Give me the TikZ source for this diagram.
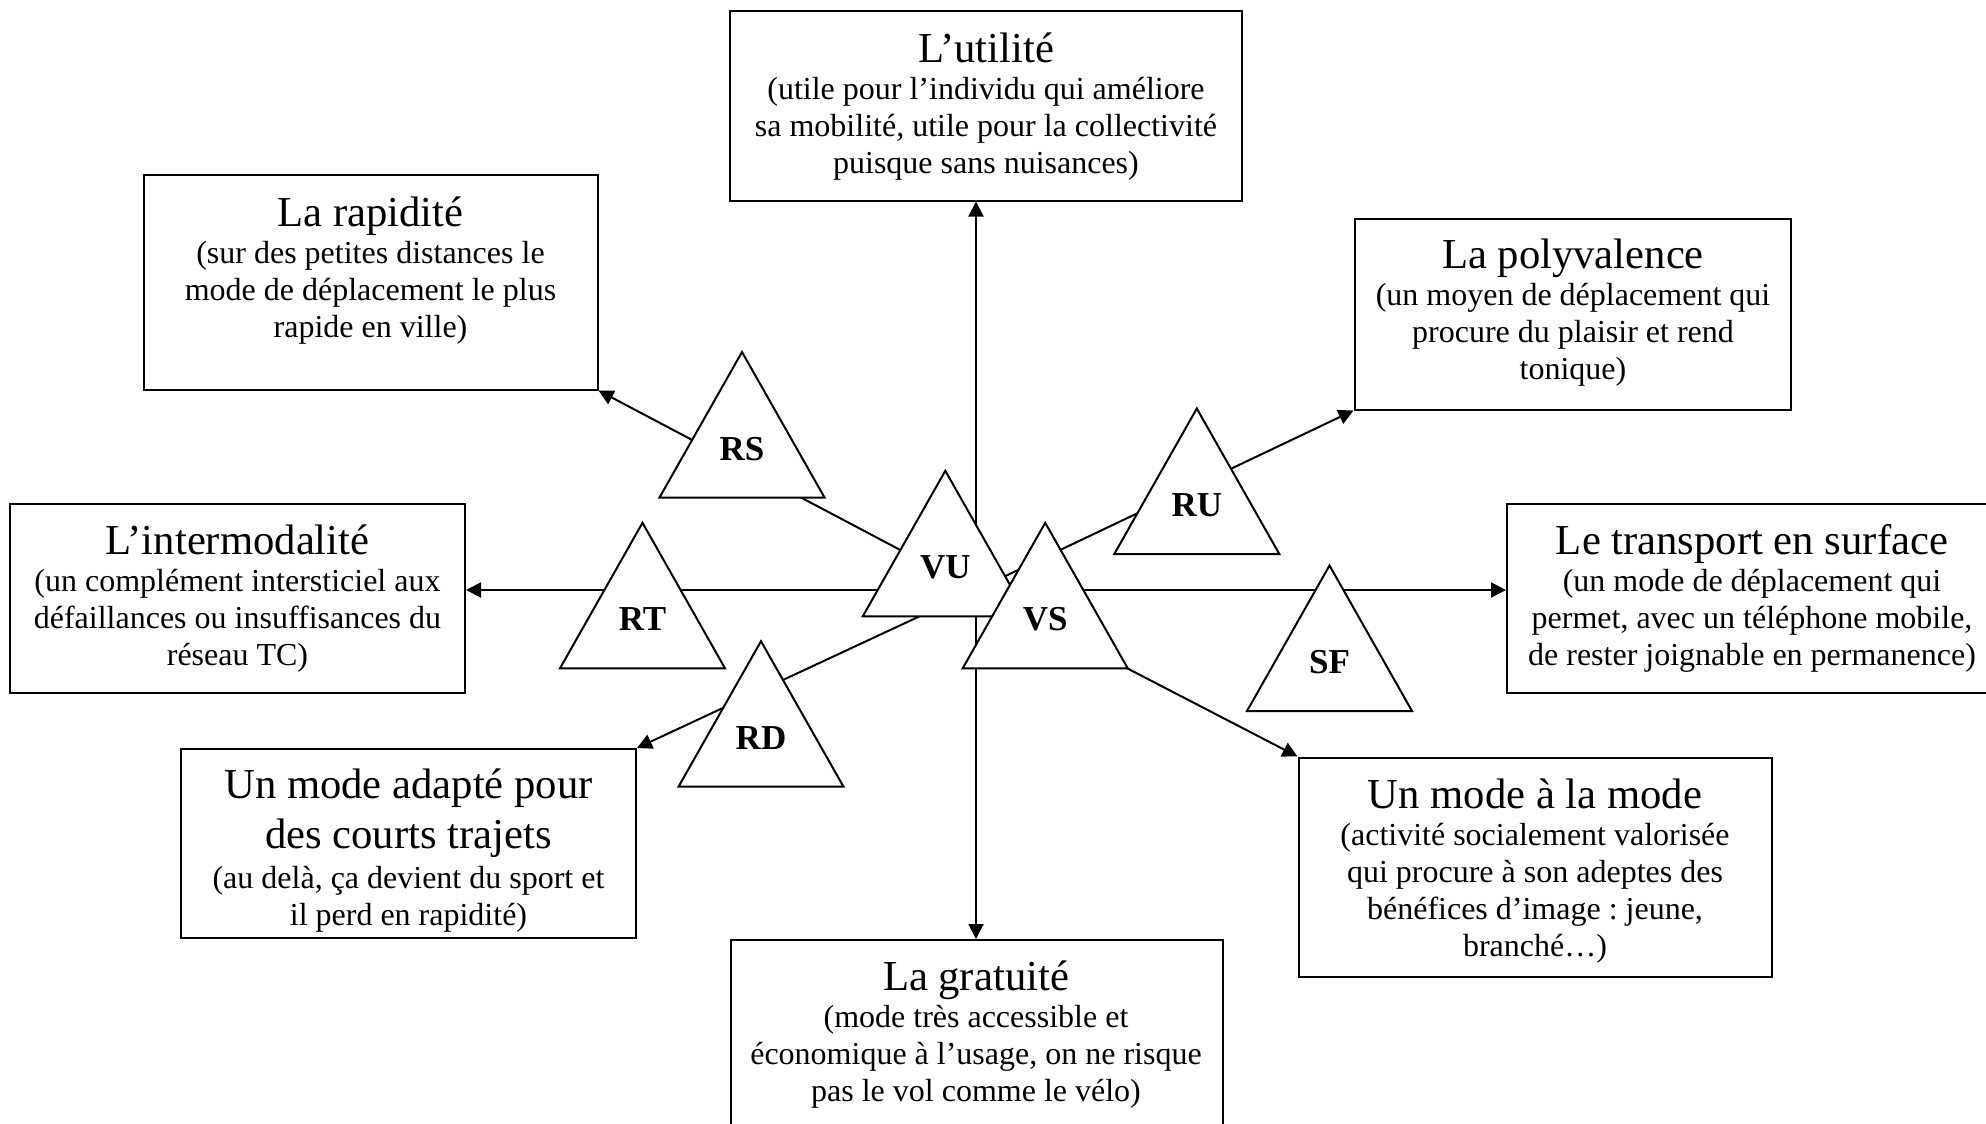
\documentclass[tikz,border=0pt]{standalone}
\usepackage{fontspec}
\setmainfont{Liberation Serif}
\usetikzlibrary{arrows.meta,fit}
% keep baselines evenly spaced even with tall title lines
\lineskiplimit=-50pt
\lineskip=0pt
\frenchspacing

\tikzset{
  box/.style={draw, line width=1pt, inner sep=0pt, line join=miter},
  txt/.style={anchor=base, text width=#1, align=flush center, inner sep=0pt,
    font=\fontsize{16}{18.5}\selectfont},
  link/.style={line width=1pt, -{Triangle[length=7.5pt,width=7.5pt]}},
  tri/.style={draw, fill=white, line width=1pt, line join=miter},
  trilabel/.style={anchor=base, inner sep=0pt, font=\fontsize{17.5}{20}\selectfont\bfseries},
}
% title line of a box
\newcommand{\ttl}[1]{{\fontsize{21.33}{18.5}\selectfont #1}}
% triangle: name, centre x, base y, label
\newcommand{\tri}[4]{%
  \filldraw[tri] (#2-82.5,#3) -- (#2,#3-145.5) -- (#2+82.5,#3) -- cycle;
  \node[trilabel] (#1) at (#2,#3-37.5) {#4};
}

\begin{document}
\begin{tikzpicture}[x=0.5pt,y=-0.5pt]
\useasboundingbox (0,0) rectangle (1986,1124);
\clip (0,0) rectangle (1986,1124);

% boxes
\node[box, fit={(730,10.7) (1242,200.5)}] (util) {};
\node[box, fit={(143.5,175) (597.5,389.5)}] (rapid) {};
\node[box, fit={(1354.5,219) (1791,409.5)}] (poly) {};
\node[box, fit={(10,503.5) (465,693)}] (inter) {};
\node[box, fit={(1507,503.5) (1997,693)}] (trans) {};
\node[box, fit={(181,749) (636,938)}] (adapt) {};
\node[box, fit={(1298.5,757.5) (1771.5,977)}] (amode) {};
\node[box, fit={(730.5,940) (1222.5,1160)}] (grat) {};

% box texts
\node[txt=256pt] (util-t) at (986,62) {\ttl{L’utilité}\\ (utile pour l’individu qui améliore\\ sa mobilité, utile pour la collectivité\\ puisque sans nuisances)};
\node[txt=227pt] (rapid-t) at (370.5,226.5) {\ttl{La rapidité}\\ (sur des petites distances le\\ mode de déplacement le plus\\ rapide en ville)};
\node[txt=218pt] (poly-t) at (1573,268.5) {\ttl{La polyvalence}\\ (un moyen de déplacement qui\\ procure du plaisir et rend\\ tonique)};
\node[txt=227pt] (inter-t) at (237.5,554) {\ttl{L’intermodalité}\\ (un complément intersticiel aux\\ défaillances ou insuffisances du\\ réseau TC)};
\node[txt=245pt] (trans-t) at (1752,554) {\ttl{Le transport en surface}\\ (un mode de déplacement qui\\ permet, avec un téléphone mobile,\\ de rester joignable en permanence)};
\node[txt=227pt] (adapt-t) at (408.5,798) {\ttl{Un mode adapté pour}\\[5pt] \ttl{des courts trajets}\\[1.5pt] (au delà, ça devient du sport et\\ il perd en rapidité)};
\node[txt=236pt] (amode-t) at (1535,808) {\ttl{Un mode à la mode}\\ (activité socialement valorisée\\ qui procure à son adeptes des\\ bénéfices d’image : jeune,\\ branché…)};
\node[txt=246pt] (grat-t) at (976,990) {\ttl{La gratuité}\\ (mode très accessible et\\ économique à l’usage, on ne risque\\ pas le vol comme le vélo)};

% connectors radiating from the hub
\coordinate (hub) at (976,590);
\draw[link] (hub) -- (util.south -| hub);
\draw[link] (hub) -- (grat.north -| hub);
\draw[link] (hub) -- (inter.east |- hub);
\draw[link] (hub) -- (trans.west |- hub);
\draw[link] (hub) -- (rapid.south east);
\draw[link] (hub) -- (poly.south west);
\draw[link] (hub) -- (adapt.north east);
\draw[link] (hub) -- (amode.north west);

% triangles
\tri{rs}{742}{497.5}{RS}
\tri{rt}{642.5}{668.3}{RT}
\tri{rd}{761}{786.7}{RD}
\tri{ru}{1196.8}{554}{RU}
\tri{sf}{1329.5}{711}{SF}
\tri{vu}{945.3}{616.3}{VU}
\tri{vs}{1045.2}{668.3}{VS}
\end{tikzpicture}
\end{document}
